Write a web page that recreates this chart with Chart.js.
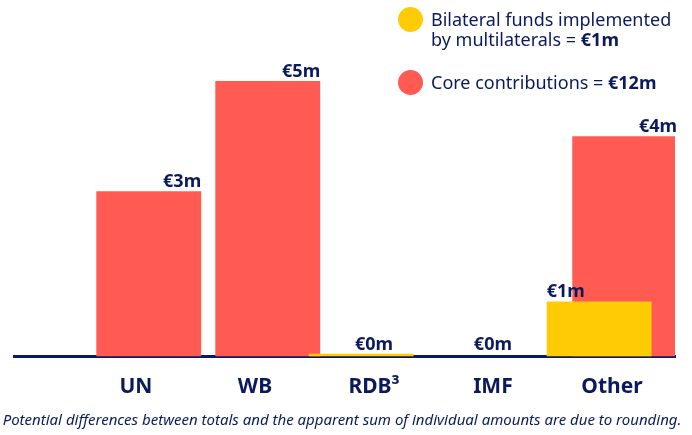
<!DOCTYPE html>
<html>
<head>
<meta charset="utf-8">
<script src="https://cdn.jsdelivr.net/npm/chart.js@4.4.1/dist/chart.umd.min.js"></script>
<style>
  html, body { margin: 0; padding: 0; background: #fff; }
</style>
</head>
<body>
<canvas id="fundsChart" width="692" height="435"></canvas>
<script>
// values in € million
var categories = ['UN', 'WB', 'RDB³', 'IMF', 'Other'];
var bilateralFunds = [null, null, 0.05, null, 1];
var coreContributions = [3, 5, null, 0, 4];
var bilateralLines = ['Bilateral funds implemented', 'by multilaterals'];
var coreLines = ['Core contributions'];
var footnote = 'Potential differences between totals and the apparent sum of individual amounts are due to rounding.';

var NAVY = '#0b1a5c';
var YELLOW = '#ffcb05';
var RED = '#ff5b53';
var FONT = "'Noto Sans', 'Open Sans', sans-serif";

function euro(v) {
    return '€' + Math.round(v) + 'm';
}

function total(arr) {
    return arr.reduce(function (s, v) { return s + (v || 0); }, 0);
}

function points(arr) {
    return arr.map(function (v, i) { return { x: i, y: v }; });
}

// amounts written above the bars
var valueLabels = {
    id: 'valueLabels',
    afterDraw: function (chart) {
        var ctx = chart.ctx;
        var xScale = chart.scales.x;
        ctx.save();
        ctx.font = 'bold 18px ' + FONT;
        ctx.fillStyle = NAVY;
        chart.data.datasets.forEach(function (ds, di) {
            chart.getDatasetMeta(di).data.forEach(function (bar, i) {
                var v = ds.data[i].y;
                if (v === null) return;
                var x, y = bar.y - 4;
                if (Math.round(v) === 0) {
                    ctx.textAlign = 'center';
                    x = xScale.getPixelForValue(i);
                    y = xScale.top - 7;
                } else if (di === 0) {
                    ctx.textAlign = 'left';
                    x = bar.x - bar.width / 2;
                } else {
                    ctx.textAlign = 'right';
                    x = bar.x + bar.width / 2;
                }
                ctx.fillText(euro(v), x, y);
            });
        });
        ctx.restore();
    }
};

// legend in the top right corner, totals in bold
var cornerLegend = {
    id: 'cornerLegend',
    afterDraw: function (chart) {
        var ctx = chart.ctx;
        var items = [
            { color: YELLOW, lines: bilateralLines, sum: total(bilateralFunds), cy: 19.5 },
            { color: RED, lines: coreLines, sum: total(coreContributions), cy: 82.5 }
        ];
        ctx.save();
        ctx.textAlign = 'left';
        items.forEach(function (item) {
            ctx.beginPath();
            ctx.arc(410.5, item.cy, 12.5, 0, Math.PI * 2);
            ctx.fillStyle = item.color;
            ctx.fill();
            ctx.fillStyle = NAVY;
            item.lines.forEach(function (line, k) {
                var y = item.cy + 6.5 + k * 20;
                ctx.font = '18px ' + FONT;
                if (k < item.lines.length - 1) {
                    ctx.fillText(line, 431, y);
                    return;
                }
                var head = line + ' = ';
                ctx.fillText(head, 431, y);
                var w = ctx.measureText(head).width;
                ctx.font = 'bold 18px ' + FONT;
                ctx.fillText(euro(item.sum), 431 + w, y);
            });
        });
        ctx.restore();
    }
};

// rounding note under the axis
var footer = {
    id: 'footer',
    afterDraw: function (chart) {
        var ctx = chart.ctx;
        ctx.save();
        ctx.font = 'italic 15px ' + FONT;
        ctx.fillStyle = NAVY;
        ctx.textAlign = 'center';
        ctx.textBaseline = 'middle';
        ctx.fillText(footnote, 342, 421);
        ctx.restore();
    }
};

var ctx = document.getElementById('fundsChart').getContext('2d');
var chart = new Chart(ctx, {
    type: 'bar',
    data: {
        datasets: [{
            label: bilateralLines.join(' '),
            data: points(bilateralFunds),
            backgroundColor: YELLOW,
            categoryPercentage: 0.43,
            barPercentage: 4.1
        }, {
            label: coreLines[0],
            data: points(coreContributions),
            backgroundColor: RED,
            categoryPercentage: 0.43,
            barPercentage: 4.1
        }]
    },
    options: {
        responsive: false,
        animation: false,
        layout: { padding: { top: 26, left: 14, right: 17, bottom: 30.5 } },
        plugins: {
            legend: { display: false },
            tooltip: { enabled: false }
        },
        scales: {
            x: {
                type: 'linear',
                min: -1.025,
                max: 4.53,
                offset: false,
                z: 1,
                grid: { display: false, drawTicks: false },
                border: { display: true, color: NAVY, width: 3 },
                afterBuildTicks: function (scale) {
                    scale.ticks = categories.map(function (c, i) { return { value: i }; });
                },
                afterFit: function (scale) {
                    scale.height = 48;
                },
                ticks: {
                    autoSkip: false,
                    maxRotation: 0,
                    padding: 18,
                    color: NAVY,
                    font: { family: FONT, size: 21, weight: 'bold' },
                    callback: function (v) { return categories[v]; }
                }
            },
            y: { display: false, min: 0, max: 6 }
        }
    },
    plugins: [valueLabels, cornerLegend, footer]
});
</script>
</body>
</html>
